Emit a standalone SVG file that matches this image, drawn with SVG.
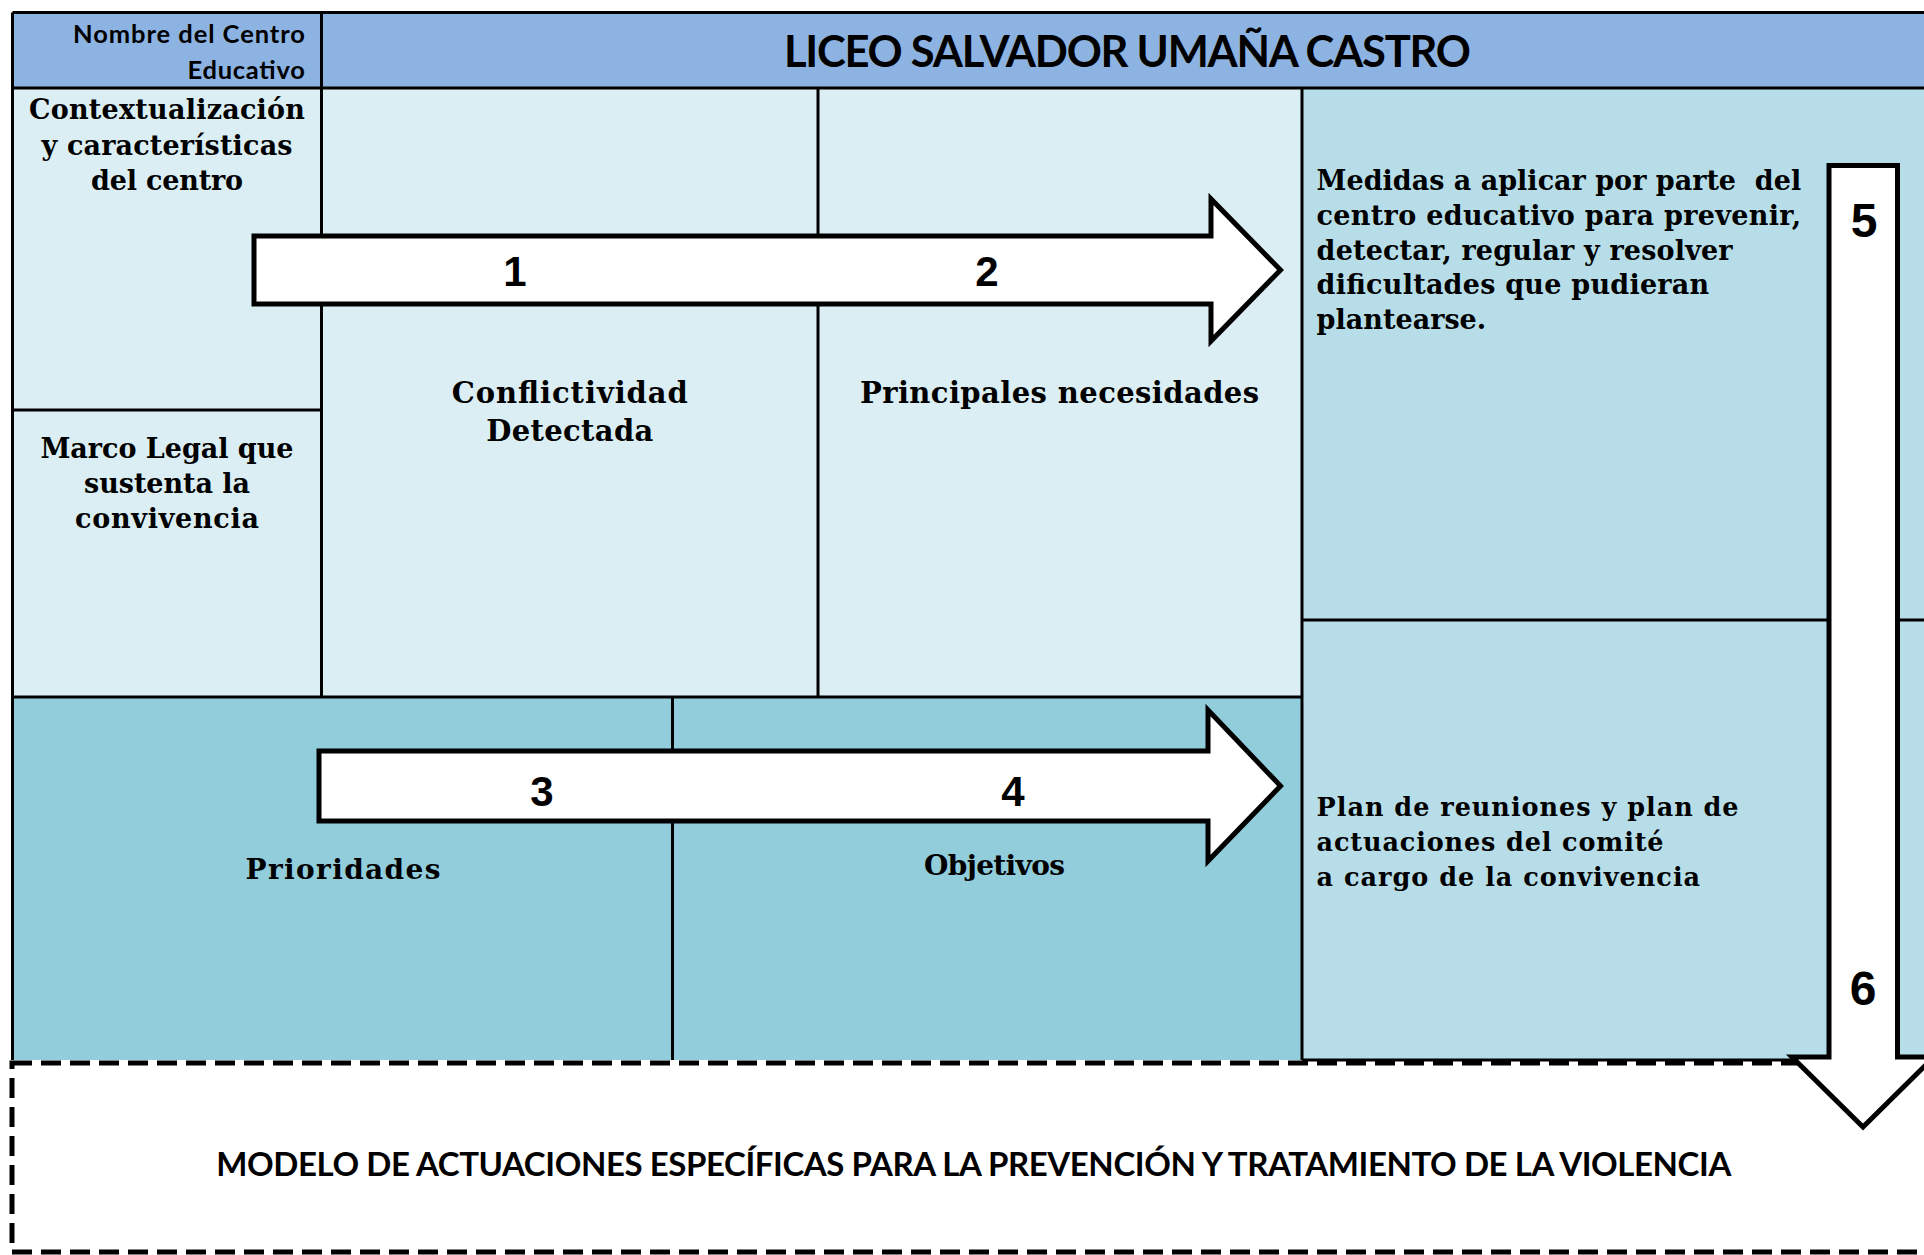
<svg xmlns="http://www.w3.org/2000/svg" width="1924" height="1255" viewBox="0 0 1924 1255">
<style>
.grid{stroke:#000;stroke-width:3;fill:none}
.hdr{fill:#8DB3E2}
.lt{fill:#DAEEF3}
.md{fill:#B7DEE8}
.dk{fill:#92CDDC}
.sans{font-family:Lato,"Open Sans","Liberation Sans",sans-serif;font-weight:700;fill:#000}
.serif{font-family:"DejaVu Serif","Liberation Serif",serif;font-weight:700;fill:#000}
.mid{text-anchor:middle}
.num{font-family:"Liberation Sans",Arial,sans-serif;font-weight:700;fill:#000;text-anchor:middle}
.arrow{fill:#fff;stroke:#000;stroke-width:5;stroke-linejoin:miter;stroke-miterlimit:10}
.dash{fill:none;stroke:#000;stroke-width:5;stroke-dasharray:20 9}
</style>
<rect x="0" y="0" width="1924" height="1255" fill="#fff"/>

<g id="header">
  <rect class="hdr" x="12.5" y="12.5" width="1911.5" height="75.5"/>
  <text class="sans" font-size="25.5" text-anchor="end" x="305" y="42.5" textLength="232">Nombre del Centro</text>
  <text class="sans" font-size="25.5" text-anchor="end" x="305" y="79" textLength="117.5">Educativo</text>
  <text class="sans mid" font-size="43.5" x="1127.5" y="67" textLength="687">LICEO SALVADOR UMAÑA CASTRO</text>
</g>

<g id="contextualizacion">
  <rect class="lt" x="12.5" y="88" width="309" height="322"/>
  <text class="serif mid" font-size="27" x="167" y="119" textLength="276">Contextualización</text>
  <text class="serif mid" font-size="27" x="167" y="154.5" textLength="251">y características</text>
  <text class="serif mid" font-size="27" x="167" y="190" textLength="152">del centro</text>
</g>

<g id="marco-legal">
  <rect class="lt" x="12.5" y="410" width="309" height="287"/>
  <text class="serif mid" font-size="27" x="167" y="458" textLength="253">Marco Legal que</text>
  <text class="serif mid" font-size="27" x="167" y="493" textLength="166">sustenta la</text>
  <text class="serif mid" font-size="27" x="167" y="528" textLength="184">convivencia</text>
</g>

<g id="conflictividad">
  <rect class="lt" x="321.5" y="88" width="496.5" height="609"/>
  <text class="serif mid" font-size="29" x="569.8" y="402.7" textLength="236">Conflictividad</text>
  <text class="serif mid" font-size="29" x="569.8" y="440.7" textLength="167">Detectada</text>
</g>

<g id="necesidades">
  <rect class="lt" x="818" y="88" width="484" height="609"/>
  <text class="serif mid" font-size="29" x="1059.5" y="403" textLength="399">Principales necesidades</text>
</g>

<g id="medidas">
  <rect class="md" x="1302" y="88" width="622" height="532"/>
  <text class="serif" font-size="27" x="1316.6" y="190" textLength="484.6" xml:space="preserve">Medidas a aplicar por parte  del</text>
  <text class="serif" font-size="27" x="1316.6" y="224.8" textLength="484.6">centro educativo para prevenir,</text>
  <text class="serif" font-size="27" x="1316.6" y="259.6" textLength="416">detectar, regular y resolver</text>
  <text class="serif" font-size="27" x="1316.6" y="294.4" textLength="392.6">dificultades que pudieran</text>
  <text class="serif" font-size="27" x="1316.6" y="329.2" textLength="169.6">plantearse.</text>
</g>

<g id="plan">
  <rect class="md" x="1302" y="620" width="622" height="440"/>
  <text class="serif" font-size="25.5" x="1316.6" y="816" textLength="422">Plan de reuniones y plan de</text>
  <text class="serif" font-size="25.5" x="1316.6" y="851" textLength="347">actuaciones del comité</text>
  <text class="serif" font-size="25.5" x="1316.6" y="886" textLength="383.5">a cargo de la convivencia</text>
</g>

<g id="prioridades">
  <rect class="dk" x="12.5" y="697" width="660" height="363"/>
  <text class="serif mid" font-size="28" x="343" y="879" textLength="195">Prioridades</text>
</g>

<g id="objetivos">
  <rect class="dk" x="672.5" y="697" width="629.5" height="363"/>
  <text class="serif mid" font-size="28" x="994.5" y="875" textLength="141">Objetivos</text>
</g>

<g id="grid">
  <path class="grid" d="M12.5 12.5 H1924 M12.5 12.5 V1060 M12.5 88 H1924 M321.5 12.5 V697 M12.5 410 H321.5 M818 88 V697 M1302 88 V1060 M1302 620 H1924 M12.5 697 H1302 M672.5 697 V1060 M1302 1060 H1924"/>
</g>

<g id="modelo">
  <rect class="dash" x="12" y="1063" width="1960" height="189"/>
  <text class="sans mid" font-size="33" x="973.8" y="1176" textLength="1515">MODELO DE ACTUACIONES ESPECÍFICAS PARA LA PREVENCIÓN Y TRATAMIENTO DE LA VIOLENCIA</text>
</g>

<g id="connectors">
  <path class="arrow" d="M254 236 H1211 V199 L1280.5 270 L1211 341 V304 H254 Z"/>
  <path class="arrow" d="M319 751 H1208 V710 L1280.5 786 L1208 861 V821 H319 Z"/>
  <path class="arrow" d="M1829 165.5 H1897.5 V1057 H1934 L1863 1127 L1792 1057 H1829 Z"/>
  <text class="num" font-size="42" x="515" y="286">1</text>
  <text class="num" font-size="42" x="987" y="286">2</text>
  <text class="num" font-size="42" x="542" y="806">3</text>
  <text class="num" font-size="42" x="1013" y="806">4</text>
  <text class="num" font-size="48" x="1864" y="237">5</text>
  <text class="num" font-size="48" x="1863" y="1005">6</text>
</g>
</svg>
